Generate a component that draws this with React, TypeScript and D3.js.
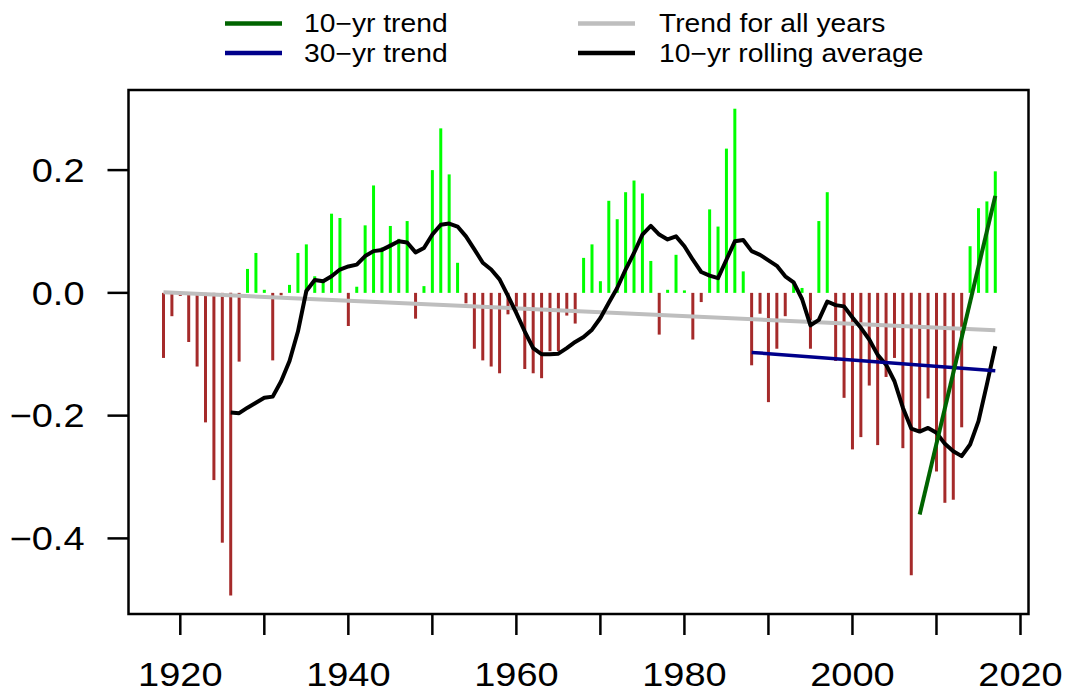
import React from "react";
import * as d3 from "d3";

// ---- Data ----
const years: number[] = d3.range(1918, 2018);
const anomalies: number[] = [
  -0.106, -0.038, -0.005, -0.080, -0.120, -0.211, -0.305, -0.407, -0.493, -0.112,
  0.039, 0.065, 0.005, -0.110, -0.004, 0.013, 0.065, 0.079, 0.027, 0.022,
  0.129, 0.122, -0.054, 0.010, 0.110, 0.175, 0.074, 0.109, 0.088, 0.117,
  -0.042, 0.011, 0.200, 0.268, 0.193, 0.049, -0.017, -0.091, -0.110, -0.120,
  -0.131, -0.035, -0.030, -0.124, -0.131, -0.139, -0.095, -0.095, -0.037, -0.050,
  0.057, 0.079, 0.019, 0.150, 0.120, 0.164, 0.183, 0.162, 0.052, -0.068,
  0.005, 0.062, 0.004, -0.076, -0.015, 0.136, 0.108, 0.235, 0.300, 0.035,
  -0.118, -0.034, -0.178, -0.091, -0.038, 0.018, 0.008, -0.091, 0.117, 0.164,
  -0.111, -0.171, -0.255, -0.235, -0.151, -0.248, -0.137, -0.106, -0.253, -0.460,
  -0.226, -0.172, -0.291, -0.342, -0.337, -0.219, 0.076, 0.138, 0.149, 0.198,
];

const rollYears: number[] = d3.range(1926, 2018);
const rollingAvg: number[] = [
  -0.195, -0.196, -0.187, -0.179, -0.171, -0.169, -0.144, -0.111, -0.063, 0.003,
  0.021, 0.019, 0.027, 0.038, 0.043, 0.046, 0.060, 0.068, 0.070, 0.077,
  0.084, 0.082, 0.066, 0.073, 0.095, 0.111, 0.113, 0.108, 0.092, 0.071,
  0.049, 0.038, 0.022, -0.005, -0.033, -0.063, -0.090, -0.100, -0.100, -0.099,
  -0.090, -0.080, -0.072, -0.060, -0.041, -0.016, 0.008, 0.038, 0.065, 0.095,
  0.109, 0.095, 0.087, 0.092, 0.076, 0.054, 0.034, 0.028, 0.024, 0.054,
  0.084, 0.086, 0.068, 0.062, 0.053, 0.044, 0.027, 0.017, -0.010, -0.053,
  -0.044, -0.014, -0.020, -0.022, -0.040, -0.057, -0.076, -0.101, -0.117, -0.144,
  -0.187, -0.221, -0.226, -0.220, -0.228, -0.246, -0.258, -0.266, -0.247, -0.209,
  -0.149, -0.087,
];

const trendAllYears: number[] = [1918, 2017];
const trendAllValues: number[] = [0.001, -0.061];
const trend30Years: number[] = [1988, 2017];
const trend30Values: number[] = [-0.097, -0.127];
const trend10Years: number[] = [2008, 2017];
const trend10Values: number[] = [-0.361, 0.158];

const xTicks: number[] = [1920, 1930, 1940, 1950, 1960, 1970, 1980, 1990, 2000, 2010, 2020];
const xTickLabels: number[] = [1920, 1940, 1960, 1980, 2000, 2020];
const yTicks: number[] = [-0.4, -0.2, 0.0, 0.2];

const legendLabels: string[] = ["10\u2212yr trend", "30\u2212yr trend", "Trend for all years", "10\u2212yr rolling average"];
const legendColors: string[] = ["#006400", "#00008B", "#BEBEBE", "#000000"];

// ---- Layout ----
const W = 1066;
const H = 692;
const box = { left: 128.5, right: 1028.5, top: 90, bottom: 614 };
const FONT = "'Liberation Sans', Arial, Helvetica, sans-serif";
const SX = 1.15;

export default function App() {
  const x = d3.scaleLinear().domain([1920, 2020]).range([180.3, 1020.5]);
  const y = d3.scaleLinear().domain([-0.4, 0.2]).range([538.4, 170.1]);

  const lineGen = d3
    .line<[number, number]>()
    .x((d) => x(d[0]))
    .y((d) => y(d[1]));

  const zip = (a: number[], b: number[]) => a.map((v, i) => [v, b[i]] as [number, number]);

  const fmtY = (v: number) => {
    const s = d3.format(".1f")(Math.abs(v));
    return v < 0 ? "\u2212" + s : s;
  };

  const legendPos = [
    { lx: 225, tx: 304, y: 23.5 },
    { lx: 225, tx: 304, y: 53 },
    { lx: 578, tx: 659, y: 23.5 },
    { lx: 578, tx: 659, y: 53 },
  ];

  return (
    <svg
      width={W}
      height={H}
      viewBox={`0 0 ${W} ${H}`}
      style={{ position: "absolute", left: 0, top: 0, background: "#fff" }}
    >
      <rect x={0} y={0} width={W} height={H} fill="#fff" />

      {/* bars */}
      <g>
        {years.map((yr, i) => (
          <line
            key={yr}
            x1={x(yr)}
            x2={x(yr)}
            y1={y(0)}
            y2={y(anomalies[i])}
            stroke={anomalies[i] >= 0 ? "#00FF00" : "#A52A2A"}
            strokeWidth={3}
            strokeLinecap="butt"
          />
        ))}
      </g>

      {/* trend for all years */}
      <path d={lineGen(zip(trendAllYears, trendAllValues)) || ""} fill="none" stroke="#BEBEBE" strokeWidth={4} />

      {/* rolling average */}
      <path
        d={lineGen(zip(rollYears, rollingAvg)) || ""}
        fill="none"
        stroke="#000"
        strokeWidth={4}
        strokeLinejoin="round"
      />

      {/* 30-yr trend */}
      <path d={lineGen(zip(trend30Years, trend30Values)) || ""} fill="none" stroke="#00008B" strokeWidth={3.5} />

      {/* 10-yr trend */}
      <path d={lineGen(zip(trend10Years, trend10Values)) || ""} fill="none" stroke="#006400" strokeWidth={4} />

      {/* box */}
      <rect
        x={box.left}
        y={box.top}
        width={box.right - box.left}
        height={box.bottom - box.top}
        fill="none"
        stroke="#000"
        strokeWidth={2.5}
      />

      {/* x axis */}
      <g>
        {xTicks.map((t) => (
          <line key={t} x1={x(t)} x2={x(t)} y1={box.bottom} y2={box.bottom + 21} stroke="#000" strokeWidth={2.5} />
        ))}
        {xTickLabels.map((t) => (
          <text
            key={t}
            transform={`translate(${x(t)},686) scale(${SX},1)`}
            textAnchor="middle"
            fontFamily={FONT}
            fontSize={33}
            fill="#000"
          >
            {t}
          </text>
        ))}
      </g>

      {/* y axis */}
      <g>
        {yTicks.map((t) => (
          <g key={t}>
            <line x1={box.left - 21} x2={box.left} y1={y(t)} y2={y(t)} stroke="#000" strokeWidth={2.5} />
            <text
              transform={`translate(84.5,${y(t) + 11.8}) scale(${SX},1)`}
              textAnchor="end"
              fontFamily={FONT}
              fontSize={33}
              fill="#000"
            >
              {fmtY(t)}
            </text>
          </g>
        ))}
      </g>

      {/* legend */}
      <g>
        {legendLabels.map((lab, i) => (
          <g key={lab}>
            <line
              x1={legendPos[i].lx}
              x2={legendPos[i].lx + 57}
              y1={legendPos[i].y}
              y2={legendPos[i].y}
              stroke={legendColors[i]}
              strokeWidth={4.5}
            />
            <text
              transform={`translate(${legendPos[i].tx},${legendPos[i].y + 8.8}) scale(1.13,1)`}
              fontFamily={FONT}
              fontSize={25}
              fill="#000"
            >
              {lab}
            </text>
          </g>
        ))}
      </g>
    </svg>
  );
}
